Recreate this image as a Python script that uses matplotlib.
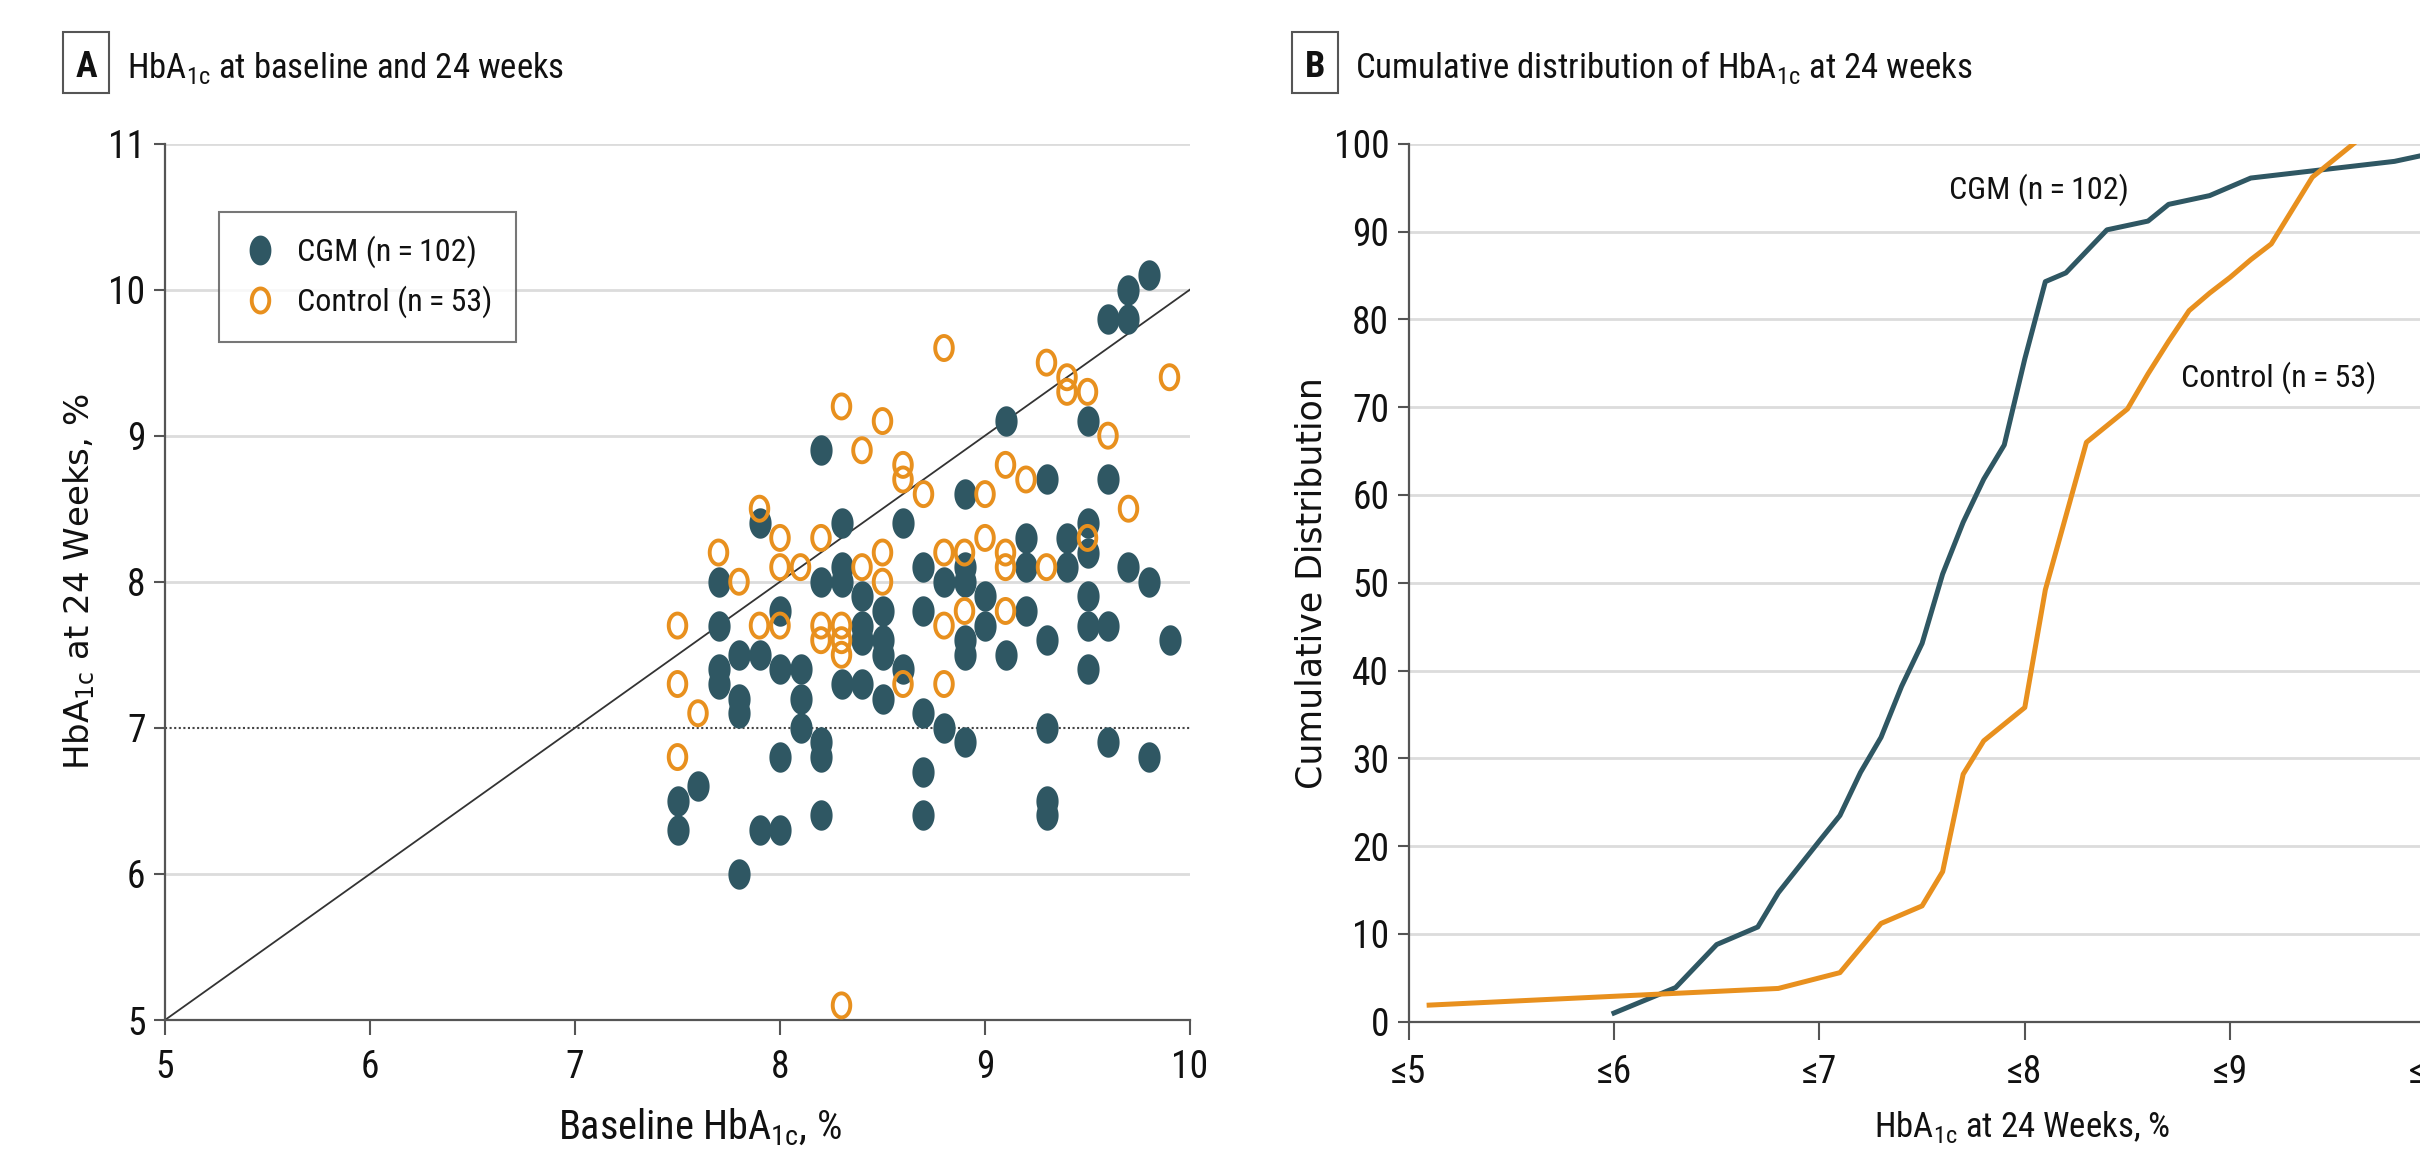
import matplotlib
matplotlib.use("Agg")
import matplotlib.pyplot as plt
import matplotlib.font_manager as fm
from matplotlib.path import Path
from matplotlib.lines import Line2D
from matplotlib.patches import Rectangle
import numpy as np

# ---------------- data ----------------
cgm_baseline = [7.5, 7.5, 7.6, 7.7, 7.7, 7.7, 7.7, 7.8, 7.8, 7.8, 7.8, 7.9, 7.9, 7.9,
                8.0, 8.0, 8.0, 8.0, 8.1, 8.1, 8.1, 8.2, 8.2, 8.2, 8.2, 8.2,
                8.3, 8.3, 8.3, 8.3, 8.4, 8.4, 8.4, 8.4, 8.5, 8.5, 8.5, 8.5, 8.6, 8.6,
                8.7, 8.7, 8.7, 8.7, 8.7, 8.8, 8.8, 8.9, 8.9, 8.9, 8.9, 8.9, 8.9,
                9.0, 9.0, 9.1, 9.1, 9.2, 9.2, 9.2, 9.3, 9.3, 9.3, 9.3, 9.3, 9.4, 9.4,
                9.5, 9.5, 9.5, 9.5, 9.5, 9.5, 9.6, 9.6, 9.6, 9.6, 9.7, 9.7, 9.7,
                9.8, 9.8, 9.8, 9.9]
cgm_week24 = [6.5, 6.3, 6.6, 8.0, 7.7, 7.4, 7.3, 7.5, 7.2, 7.1, 6.0, 8.4, 7.5, 6.3,
              7.8, 7.4, 6.8, 6.3, 7.4, 7.2, 7.0, 8.9, 8.0, 6.9, 6.8, 6.4,
              8.4, 8.1, 8.0, 7.3, 7.9, 7.7, 7.6, 7.3, 7.8, 7.6, 7.5, 7.2, 8.4, 7.4,
              8.1, 7.8, 7.1, 6.7, 6.4, 8.0, 7.0, 8.6, 8.1, 8.0, 7.6, 7.5, 6.9,
              7.9, 7.7, 9.1, 7.5, 8.3, 8.1, 7.8, 8.7, 7.6, 7.0, 6.5, 6.4, 8.3, 8.1,
              9.1, 8.4, 8.2, 7.9, 7.7, 7.4, 9.8, 8.7, 7.7, 6.9, 10.0, 9.8, 8.1,
              10.1, 8.0, 6.8, 7.6]

control_baseline = [7.5, 7.5, 7.5, 7.6, 7.7, 7.8, 7.9, 7.9, 8.0, 8.0, 8.0, 8.1,
                    8.2, 8.2, 8.2, 8.3, 8.3, 8.3, 8.3, 8.3, 8.4, 8.4, 8.5, 8.5, 8.5,
                    8.6, 8.6, 8.6, 8.7, 8.8, 8.8, 8.8, 8.8, 8.9, 8.9, 9.0, 9.0,
                    9.1, 9.1, 9.1, 9.1, 9.2, 9.3, 9.3, 9.4, 9.4, 9.5, 9.5, 9.6, 9.7, 9.9]
control_week24 = [7.7, 7.3, 6.8, 7.1, 8.2, 8.0, 8.5, 7.7, 8.3, 8.1, 7.7, 8.1,
                  8.3, 7.7, 7.6, 9.2, 7.7, 7.6, 7.5, 5.1, 8.9, 8.1, 9.1, 8.2, 8.0,
                  8.8, 8.7, 7.3, 8.6, 9.6, 8.2, 7.7, 7.3, 8.2, 7.8, 8.6, 8.3,
                  8.8, 8.2, 8.1, 7.8, 8.7, 9.5, 8.1, 9.4, 9.3, 9.3, 8.3, 9.0, 8.5, 9.4]

cdf_cgm_x = [6.0, 6.3, 6.5, 6.6, 6.7, 6.8, 7.0, 7.1, 7.2, 7.3, 7.4, 7.5, 7.6, 7.7,
             7.8, 7.9, 8.0, 8.1, 8.2, 8.4, 8.6, 8.7, 8.9, 9.1, 9.8, 10.0, 10.1]
cdf_cgm_y = [1.0, 3.9, 8.8, 9.8, 10.8, 14.7, 20.6, 23.5, 28.4, 32.4, 38.2, 43.1, 51.0, 56.9,
             61.8, 65.7, 75.5, 84.3, 85.3, 90.2, 91.2, 93.1, 94.1, 96.1, 98.0, 99.0, 100.0]
cdf_ctrl_x = [5.1, 6.8, 7.1, 7.3, 7.5, 7.6, 7.7, 7.8, 8.0, 8.1, 8.3, 8.5, 8.6, 8.7,
              8.8, 8.9, 9.0, 9.1, 9.2, 9.4, 9.6]
cdf_ctrl_y = [1.9, 3.8, 5.6, 11.2, 13.2, 17.1, 28.2, 32.0, 35.8, 49.2, 66.0, 69.8, 73.8, 77.5,
              81.0, 83.0, 84.8, 86.8, 88.6, 96.2, 100.0]

a_xticks = [5, 6, 7, 8, 9, 10]
a_yticks = [5, 6, 7, 8, 9, 10, 11]
b_xticks = [5, 6, 7, 8, 9, 10]
b_xticklabels = ["≤5", "≤6", "≤7", "≤8", "≤9", "≤10"]
b_yticks = list(range(0, 101, 10))
label_cgm = "CGM (n\u2009=\u2009102)"
label_ctrl = "Control (n\u2009=\u200953)"

# ---------------- style ----------------
avail = {f.name for f in fm.fontManager.ttflist}
COND = next((n for n in ["Liberation Sans Narrow", "Roboto Condensed", "Open Sans Condensed",
                         "Liberation Sans"] if n in avail), "DejaVu Sans")
plt.rcParams["font.family"] = [COND, "DejaVu Sans"]
plt.rcParams["mathtext.fontset"] = "custom"
plt.rcParams["mathtext.rm"] = COND

C_CGM = "#2F5763"
C_CTRL = "#E8901E"
GRID = "#DCDCDC"
AXC = "#555555"
TXT = "#111111"

W, H = 2420, 1165
fig = plt.figure(figsize=(W / 100, H / 100), dpi=100)
fig.patch.set_facecolor("white")

def fx(px):
    return px / W

def fy(py):
    return 1 - py / H

# elliptical marker (the reference is stretched vertically)
t = np.linspace(0, 2 * np.pi, 73)
ell = Path(np.column_stack([0.73 * np.cos(t), np.sin(t)]), closed=True)

# ---------------- panel A ----------------
axA = fig.add_axes([fx(165), fy(1020), (1190 - 165) / W, (1020 - 143.5) / H])
axA.set_xlim(5, 10)
axA.set_ylim(5, 11)
for yv in [5, 6, 8, 9, 10, 11]:
    axA.axhline(yv, color=GRID, lw=2.0, zorder=0)
axA.axhline(7, color="#444444", lw=1.5, ls=(0, (1, 1.2)), zorder=1)
axA.plot([5, 10], [5, 10], color="#333333", lw=1.3, zorder=1)

axA.scatter(cgm_baseline, cgm_week24, s=480, marker=ell, color=C_CGM,
            linewidths=0, zorder=3)
axA.scatter(control_baseline, control_week24, s=300, marker=ell, facecolors="none",
            edgecolors=C_CTRL, linewidths=2.8, zorder=4)

axA.set_xticks(a_xticks)
axA.set_yticks(a_yticks)
axA.tick_params(axis="x", length=11, width=1.5, color=AXC, pad=10, labelsize=27, labelcolor=TXT)
axA.tick_params(axis="y", length=8, width=1.5, color=AXC, pad=6, labelsize=27, labelcolor=TXT)
for s in ["top", "right"]:
    axA.spines[s].set_visible(False)
for s in ["left", "bottom"]:
    axA.spines[s].set_color(AXC)
    axA.spines[s].set_linewidth(1.6)

axA.set_xlabel(r"Baseline HbA$_{\mathregular{1c}}$, %", fontsize=29, color=TXT)
axA.xaxis.set_label_coords((700 - 165) / 1025, -0.099)
axA.set_ylabel(r"HbA$_{\mathregular{1c}}$ at 24 Weeks, %", fontsize=24.5, color=TXT,
               family="DejaVu Sans")
axA.yaxis.set_label_coords((97 - 165) / 1025, 0.5)

hA = [Line2D([], [], ls="none", marker=ell, markersize=21.5, color=C_CGM, markeredgewidth=0),
      Line2D([], [], ls="none", marker=ell, markersize=17.3, markerfacecolor="none",
             markeredgecolor=C_CTRL, markeredgewidth=2.8)]
leg = axA.legend(hA, [label_cgm, label_ctrl], loc="upper left",
                 bbox_to_anchor=((218.6 - 165) / 1025, 1 - (211.7 - 143.5) / 876.5),
                 fontsize=23, frameon=True, fancybox=False, borderpad=0.75,
                 handlelength=1.1, handletextpad=0.6, labelspacing=0.55,
                 borderaxespad=0)
leg.get_frame().set_edgecolor(AXC)
leg.get_frame().set_linewidth(1.5)
for tx in leg.get_texts():
    tx.set_color(TXT)

# ---------------- panel B ----------------
unitB = 205.4
axB = fig.add_axes([fx(1408.6), fy(1021.8), unitB * 5.1 / W, (1021.8 - 143.8) / H])
axB.set_xlim(5, 10.1)
axB.set_ylim(0, 100)
for yv in b_yticks[1:]:
    axB.axhline(yv, color=GRID, lw=2.0, zorder=0)
axB.plot(cdf_cgm_x, cdf_cgm_y, color=C_CGM, lw=3.6, zorder=3)
axB.plot(cdf_ctrl_x, cdf_ctrl_y, color=C_CTRL, lw=3.6, zorder=3)
axB.text(7.63, 93.7, label_cgm, fontsize=23, color=TXT, va="baseline", ha="left")
axB.text(8.76, 72.3, label_ctrl, fontsize=23, color=TXT, va="baseline", ha="left")

axB.set_xticks(b_xticks)
axB.set_xticklabels(b_xticklabels)
axB.set_yticks(b_yticks)
axB.tick_params(axis="x", length=13, width=1.5, color=AXC, pad=10, labelsize=27, labelcolor=TXT)
axB.tick_params(axis="y", length=8, width=1.5, color=AXC, pad=6, labelsize=27, labelcolor=TXT)
for s in ["top", "right"]:
    axB.spines[s].set_visible(False)
for s in ["left", "bottom"]:
    axB.spines[s].set_color(AXC)
    axB.spines[s].set_linewidth(1.6)

axB.set_xlabel(r"HbA$_{\mathregular{1c}}$ at 24 Weeks, %", fontsize=25, color=TXT)
axB.xaxis.set_label_coords((2022 - 1408.6) / (unitB * 5.1), -0.099)
axB.set_ylabel("Cumulative Distribution", fontsize=25, color=TXT, family="DejaVu Sans")
axB.yaxis.set_label_coords((1328 - 1408.6) / (unitB * 5.1), 0.5)

# ---------------- panel headers ----------------
for (x0, x1, letter, title_x, title) in [
        (63, 109, "A", 127, r"HbA$_{\mathregular{1c}}$ at baseline and 24 weeks"),
        (1292, 1338, "B", 1355, r"Cumulative distribution of HbA$_{\mathregular{1c}}$ at 24 weeks")]:
    fig.add_artist(Rectangle((fx(x0), fy(93)), (x1 - x0) / W, (93 - 32) / H,
                             transform=fig.transFigure, fill=False,
                             edgecolor=AXC, lw=1.5))
    fig.text(fx((x0 + x1) / 2), fy(77), letter, fontsize=26, fontweight="bold",
             ha="center", va="baseline", color=TXT)
    fig.text(fx(title_x), fy(78), title, fontsize=25, ha="left", va="baseline", color=TXT)

fig.savefig("out.png", dpi=100, facecolor="white")
